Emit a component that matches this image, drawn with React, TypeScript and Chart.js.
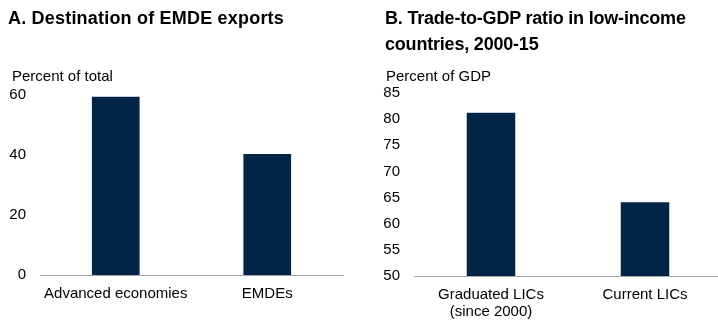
import React, { useEffect, useRef } from 'react';
import { Chart, registerables } from 'chart.js';

Chart.register(...registerables);

// ---- Data ----
const titleA = 'A. Destination of EMDE exports';
const unitA = 'Percent of total';
const categoriesA: (string | string[])[] = ['Advanced economies', 'EMDEs'];
const valuesA = [59.4, 40.3];
const ticksA = [0, 20, 40, 60];

const titleB = ['B. Trade-to-GDP ratio in low-income', 'countries, 2000-15'];
const unitB = 'Percent of GDP';
const categoriesB: (string | string[])[] = [['Graduated LICs', '(since 2000)'], 'Current LICs'];
const valuesB = [81.2, 64.1];
const ticksB = [50, 55, 60, 65, 70, 75, 80, 85];

const BAR = '#022447';
const AXIS = '#a6a6a6';
const FONT = '"Liberation Sans", Arial, sans-serif';

type PanelProps = {
  labels: (string | string[])[];
  values: number[];
  ticks: number[];
  yWidth: number;
  xHeight: number;
  padRight: number;
  padTop: number;
  width: number;
  left: number;
};

function Panel(p: PanelProps) {
  const ref = useRef<HTMLCanvasElement | null>(null);
  useEffect(() => {
    if (!ref.current) return;
    const chart = new Chart(ref.current, {
      type: 'bar',
      data: {
        labels: p.labels,
        datasets: [
          {
            data: p.values,
            backgroundColor: BAR,
            borderWidth: 0,
            barPercentage: 0.315,
            categoryPercentage: 1,
          },
        ],
      },
      options: {
        animation: false,
        responsive: false,
        maintainAspectRatio: false,
        layout: { padding: { top: p.padTop, right: p.padRight, left: 0, bottom: 0 } },
        plugins: { legend: { display: false }, tooltip: { enabled: false }, title: { display: false } },
        scales: {
          x: {
            grid: { display: false, drawTicks: false },
            border: { display: true, color: AXIS, width: 1 },
            ticks: {
              color: '#000',
              font: { family: FONT, size: 15, lineHeight: 1.15 },
              padding: 10,
              maxRotation: 0,
              autoSkip: false,
            },
            afterFit: (s: any) => {
              s.height = p.xHeight;
            },
          },
          y: {
            min: p.ticks[0],
            max: p.ticks[p.ticks.length - 1],
            grid: { display: false, drawTicks: false },
            border: { display: false },
            ticks: {
              color: '#000',
              font: { family: FONT, size: 15 },
              padding: 14,
            },
            afterBuildTicks: (s: any) => {
              s.ticks = p.ticks.map((v) => ({ value: v }));
            },
            afterFit: (s: any) => {
              s.width = p.yWidth;
            },
          },
        },
      },
    });
    return () => chart.destroy();
  }, []);
  return (
    <canvas
      ref={ref}
      width={p.width}
      height={320}
      style={{ position: 'absolute', left: p.left, top: 0, width: p.width, height: 320 }}
    />
  );
}

const titleStyle: React.CSSProperties = {
  position: 'absolute',
  fontFamily: FONT,
  fontWeight: 'bold',
  fontSize: 18,
  lineHeight: '26px',
  color: '#000',
  whiteSpace: 'nowrap',
};

const unitStyle: React.CSSProperties = {
  position: 'absolute',
  fontFamily: FONT,
  fontSize: 15,
  lineHeight: '18px',
  color: '#000',
  whiteSpace: 'nowrap',
};

export default function App() {
  return (
    <div
      style={{
        position: 'absolute',
        left: 0,
        top: 0,
        width: 718,
        height: 320,
        overflow: 'hidden',
        background: '#fff',
      }}
    >
      <Panel
        labels={categoriesA}
        values={valuesA}
        ticks={ticksA}
        yWidth={40}
        xHeight={45}
        padRight={16}
        padTop={95}
        width={359}
        left={0}
      />
      <Panel
        labels={categoriesB}
        values={valuesB}
        ticks={ticksB}
        yWidth={55}
        xHeight={44}
        padRight={0}
        padTop={93}
        width={363}
        left={359}
      />
      <div style={{ ...titleStyle, left: 8, top: 5, letterSpacing: 0.2 }}>{titleA}</div>
      <div style={{ ...titleStyle, left: 385, top: 5, letterSpacing: -0.2 }}>
        {titleB.map((t, i) => (
          <div key={i}>{t}</div>
        ))}
      </div>
      <div style={{ ...unitStyle, left: 12, top: 67 }}>{unitA}</div>
      <div style={{ ...unitStyle, left: 386, top: 67 }}>{unitB}</div>
    </div>
  );
}
